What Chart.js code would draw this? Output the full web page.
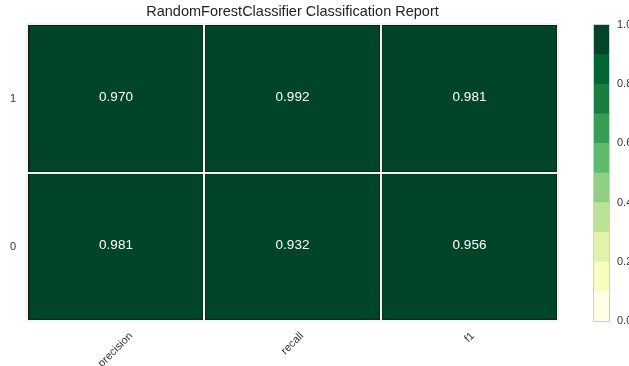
<!DOCTYPE html>
<html>
<head>
<meta charset="utf-8">
<script src="https://cdn.jsdelivr.net/npm/chart.js@4.4.1/dist/chart.umd.min.js"></script>
<style>
  html, body { margin: 0; padding: 0; background: #fff; overflow: hidden; width: 629px; height: 366px; }
  #wrap { position: relative; width: 629px; height: 366px; overflow: hidden; }
  #report { position: absolute; left: 0; top: 0; }
  #scale { position: absolute; left: 585px; top: 0; }
</style>
</head>
<body>
<div id="wrap">
  <canvas id="report" width="629" height="366"></canvas>
  <canvas id="scale" width="100" height="366"></canvas>
</div>
<script>
// Classification report scores, one array per metric, rows ordered top to bottom
const classes = ['1', '0'];
const metrics = ['precision', 'recall', 'f1'];
const precision = [0.970, 0.981];
const recall = [0.992, 0.932];
const f1 = [0.981, 0.956];

// Colour bar: ten equal bins of the YlGn map, tick labels every 0.2
const levelEdges = [0.0, 0.1, 0.2, 0.3, 0.4, 0.5, 0.6, 0.7, 0.8, 0.9, 1.0];
const colorbarTicks = [0.0, 0.2, 0.4, 0.6, 0.8, 1.0];
const levelColors = ['#ffffe5', '#f8fcbe', '#e0f3a8', '#bce395', '#90d082',
                     '#60ba6d', '#379e54', '#1b7e40', '#006435', '#004529'];

const FONT = "'Liberation Sans', Arial, sans-serif";
Chart.defaults.font.family = FONT;
Chart.defaults.color = '#333';

function colorFor(v) {
  let i = levelEdges.findIndex((e, k) => k < levelEdges.length - 1 && v >= e && v < levelEdges[k + 1]);
  if (i < 0) i = levelColors.length - 1;
  return levelColors[i];
}

const scoreRows = [precision, recall, f1];

// Writes each score in the middle of its cell
const cellValues = {
  id: 'cellValues',
  afterDraw(chart) {
    const { ctx } = chart;
    ctx.save();
    ctx.font = '13.5px ' + FONT;
    ctx.fillStyle = '#ffffff';
    ctx.textAlign = 'center';
    ctx.textBaseline = 'middle';
    chart.data.datasets.forEach((ds, di) => {
      chart.getDatasetMeta(di).data.forEach((bar, ci) => {
        const p = bar.getCenterPoint();
        ctx.fillText(ds.scores[ci].toFixed(3), p.x, p.y - 1.5);
      });
    });
    ctx.restore();
  }
};

// Metric names under the columns, turned 45 degrees and centred on each column
const metricLabels = {
  id: 'metricLabels',
  afterDraw(chart) {
    const { ctx, chartArea } = chart;
    const x = chart.scales.x;
    ctx.save();
    ctx.font = '11px ' + FONT;
    ctx.fillStyle = '#333';
    ctx.textAlign = 'center';
    ctx.textBaseline = 'middle';
    metrics.forEach((m, i) => {
      const cx = x.getPixelForValue(i + 0.5);
      const w = ctx.measureText(m).width;
      const ext = (w + 9) * Math.SQRT1_2;
      const cy = chartArea.bottom + 10 + ext / 2;
      ctx.save();
      ctx.translate(cx, cy);
      ctx.rotate(-Math.PI / 4);
      ctx.fillText(m, 0, 0);
      ctx.restore();
    });
    ctx.restore();
  }
};

new Chart(document.getElementById('report'), {
  type: 'bar',
  data: {
    labels: classes,
    datasets: metrics.map((m, j) => ({
      label: m,
      scores: scoreRows[j],
      data: classes.map(() => 1),
      backgroundColor: scoreRows[j].map(colorFor),
      borderColor: '#0d2416',
      borderWidth: 2,
      borderSkipped: false,
      barPercentage: 1,
      categoryPercentage: 1
    }))
  },
  options: {
    indexAxis: 'y',
    responsive: false,
    animation: false,
    layout: { padding: { left: 0, right: 71, top: 0, bottom: 45 } },
    plugins: {
      legend: { display: false },
      tooltip: { enabled: false },
      title: {
        display: true,
        fullSize: false,
        text: 'RandomForestClassifier Classification Report',
        color: '#222',
        font: { size: 14.5, weight: 'normal', family: FONT },
        padding: { top: 3, bottom: 4 }
      }
    },
    scales: {
      x: {
        type: 'linear',
        stacked: true,
        min: 0,
        max: metrics.length,
        ticks: { display: false, stepSize: 1 },
        grid: { color: '#f4f4f4', lineWidth: 2, drawTicks: false, z: 1 },
        border: { display: false },
        afterFit(scale) { scale.height = 0; }
      },
      y: {
        type: 'category',
        stacked: true,
        offset: true,
        ticks: { color: '#333', font: { size: 11 }, padding: 11 },
        grid: { offset: true, color: '#f4f4f4', lineWidth: 2, drawTicks: false, z: 1 },
        border: { display: false },
        afterFit(scale) { scale.width = 27; }
      }
    }
  },
  plugins: [cellValues, metricLabels]
});

// Thin grey outline round the colour bar
const barOutline = {
  id: 'barOutline',
  afterDatasetsDraw(chart) {
    const { ctx, chartArea: a } = chart;
    ctx.save();
    ctx.strokeStyle = '#cfcfcf';
    ctx.lineWidth = 1;
    ctx.strokeRect(a.left - 0.5, a.top - 0.5, a.right - a.left + 1, a.bottom - a.top + 1);
    ctx.restore();
  }
};

new Chart(document.getElementById('scale'), {
  type: 'bar',
  data: {
    labels: [''],
    datasets: levelColors.map((c, i) => ({
      data: [levelEdges[i + 1] - levelEdges[i]],
      backgroundColor: c,
      borderWidth: 0,
      barPercentage: 1,
      categoryPercentage: 1
    }))
  },
  options: {
    responsive: false,
    animation: false,
    layout: { padding: { left: 9, right: 0, top: 25, bottom: 45 } },
    plugins: { legend: { display: false }, tooltip: { enabled: false } },
    scales: {
      x: {
        stacked: true,
        ticks: { display: false },
        grid: { display: false },
        border: { display: false },
        afterFit(scale) { scale.height = 0; }
      },
      y: {
        stacked: true,
        position: 'right',
        min: 0,
        max: 1,
        afterBuildTicks(scale) { scale.ticks = colorbarTicks.map(v => ({ value: v })); },
        ticks: { color: '#333', font: { size: 11 }, padding: 8, callback: v => Number(v).toFixed(1) },
        grid: { display: false, drawTicks: false },
        border: { display: false },
        afterFit(scale) { scale.width = 76; }
      }
    }
  },
  plugins: [barOutline]
});
</script>
</body>
</html>
